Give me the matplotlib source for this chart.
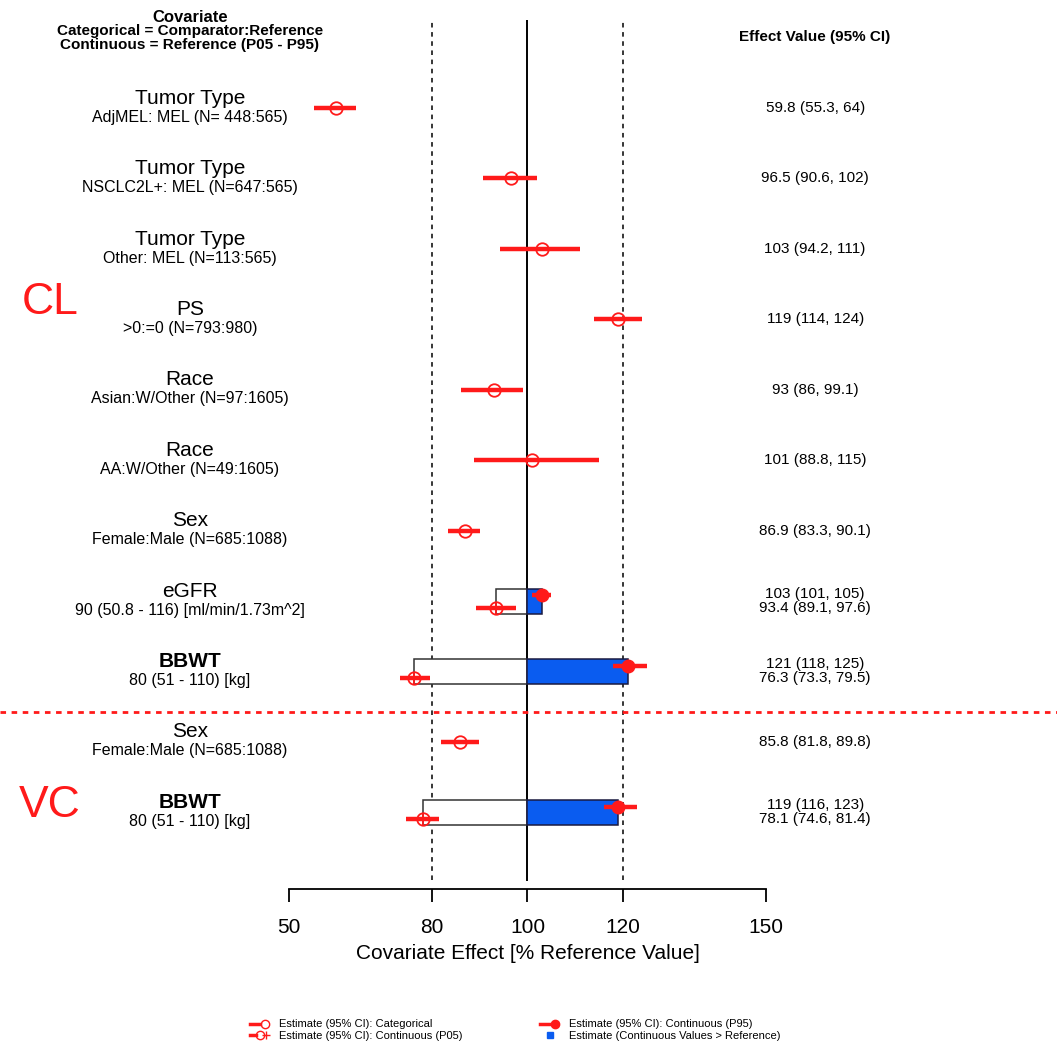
import matplotlib.pyplot as plt
from matplotlib.patches import Rectangle
from matplotlib.lines import Line2D
from matplotlib.legend_handler import HandlerTuple

plt.rcParams['font.family'] = ['Liberation Sans', 'DejaVu Sans']

# categorical rows (row index, name, sub label, est, lo, hi)
cat_rows = [0, 1, 2, 3, 4, 5, 6, 9]
cat_names = ['Tumor Type', 'Tumor Type', 'Tumor Type', 'PS', 'Race', 'Race', 'Sex', 'Sex']
cat_subs = ['AdjMEL: MEL (N= 448:565)', 'NSCLC2L+: MEL (N=647:565)', 'Other: MEL (N=113:565)',
            '>0:=0 (N=793:980)', 'Asian:W/Other (N=97:1605)', 'AA:W/Other (N=49:1605)',
            'Female:Male (N=685:1088)', 'Female:Male (N=685:1088)']
cat_est = [59.8, 96.5, 103, 119, 93, 101, 86.9, 85.8]
cat_lo = [55.3, 90.6, 94.2, 114, 86, 88.8, 83.3, 81.8]
cat_hi = [64, 102, 111, 124, 99.1, 115, 90.1, 89.8]

# continuous rows
con_rows = [7, 8, 10]
con_names = ['eGFR', 'BBWT', 'BBWT']
con_subs = ['90 (50.8 - 116) [ml/min/1.73m^2]', '80 (51 - 110) [kg]', '80 (51 - 110) [kg]']
p95_est = [103, 121, 119]
p95_lo = [101, 118, 116]
p95_hi = [105, 125, 123]
p05_est = [93.4, 76.3, 78.1]
p05_lo = [89.1, 73.3, 74.6]
p05_hi = [97.6, 79.5, 81.4]

xticks = [50, 80, 100, 120, 150]

RED = '#ff1a1a'
BLUE = '#0a5cf0'

fig = plt.figure(figsize=(10.57, 10.48), dpi=100)
ax = fig.add_axes([0.2734, 0.1517, 0.4513, 0.8292])
ax.set_xlim(50, 150)
ax.set_ylim(11.09, -1.25)
for s in ['top', 'right', 'left']:
    ax.spines[s].set_visible(False)
ax.spines['bottom'].set_bounds(50, 150)
ax.spines['bottom'].set_linewidth(1.3)
ax.set_yticks([])
ax.set_xticks(xticks)
ax.set_xticklabels([str(t) for t in xticks])
ax.tick_params(axis='x', length=9, width=1.3, labelsize=15, pad=12)
ax.set_xlabel('Covariate Effect [% Reference Value]', fontsize=15, labelpad=5)

ax.axvline(100, ymin=0.01, ymax=1, color='black', lw=1.4)
for v in [80, 120]:
    ax.axvline(v, ymin=0.01, ymax=1, color='black', lw=1.1, ls=(0, (3, 3)))

ms = 9
lw_ci = 3.2
fs_sub = 11.5
fs_val = 11

def label(y, name, sub, bold=False):
    ax.text(29.2, y - 0.14, name, ha='center', va='center', fontsize=15,
            fontweight='bold' if bold else 'normal', clip_on=False)
    ax.text(29.2, y + 0.13, sub, ha='center', va='center', fontsize=fs_sub, clip_on=False)

for r, n, s, e, lo, hi in zip(cat_rows, cat_names, cat_subs, cat_est, cat_lo, cat_hi):
    ax.plot([lo, hi], [r, r], color=RED, lw=lw_ci, solid_capstyle='butt', zorder=4)
    ax.plot(e, r, 'o', mfc='none', mec=RED, mew=1.3, ms=ms, zorder=5)
    label(r, n, s)
    ax.text(160.3, r, '%g (%g, %g)' % (e, lo, hi), ha='center', va='center', fontsize=fs_val, clip_on=False)

for i, r in enumerate(con_rows):
    y95 = r - 0.08
    y05 = r + 0.1
    top = r - 0.17
    h = 0.35
    ax.add_patch(Rectangle((p05_est[i], top), 100 - p05_est[i], h, facecolor='white',
                           edgecolor='#333333', lw=1.1, zorder=2))
    ax.add_patch(Rectangle((100, top), p95_est[i] - 100, h, facecolor=BLUE,
                           edgecolor='#1a1a40', lw=1.1, zorder=3))
    ax.plot([p95_lo[i], p95_hi[i]], [y95, y95], color=RED, lw=lw_ci, solid_capstyle='butt', zorder=4)
    ax.plot(p95_est[i], y95, 'o', color=RED, ms=ms, zorder=5)
    ax.plot([p05_lo[i], p05_hi[i]], [y05, y05], color=RED, lw=lw_ci, solid_capstyle='butt', zorder=4)
    ax.plot(p05_est[i], y05, 'o', mfc='none', mec=RED, mew=1.3, ms=ms, zorder=5)
    ax.plot(p05_est[i], y05, '+', color=RED, mew=1.3, ms=ms, zorder=5)
    label(r, con_names[i], con_subs[i], bold=(con_names[i] == 'BBWT'))
    ax.text(160.3, r - 0.1, '%g (%g, %g)' % (p95_est[i], p95_lo[i], p95_hi[i]),
            ha='center', va='center', fontsize=fs_val, clip_on=False)
    ax.text(160.3, r + 0.1, '%g (%g, %g)' % (p05_est[i], p05_lo[i], p05_hi[i]),
            ha='center', va='center', fontsize=fs_val, clip_on=False)

# separator between CL and VC
ax.plot([-10.6, 211], [8.57, 8.57], color=RED, lw=2, ls=(0, (2, 2)), clip_on=False)

ax.text(-0.1, 2.76, 'CL', color=RED, fontsize=32, ha='center', va='center', clip_on=False)
ax.text(-0.1, 9.9, 'VC', color=RED, fontsize=32, ha='center', va='center', clip_on=False)

# headers
fig.text(190 / 1057, 1 - 17 / 1048, 'Covariate', ha='center', va='center', fontsize=12, fontweight='bold')
fig.text(190 / 1057, 1 - 31 / 1048, 'Categorical = Comparator:Reference', ha='center', va='center',
         fontsize=11, fontweight='bold')
fig.text(190 / 1057, 1 - 45 / 1048, 'Continuous = Reference (P05 - P95)', ha='center', va='center',
         fontsize=11, fontweight='bold')
fig.text(815 / 1057, 1 - 37 / 1048, 'Effect Value (95% CI)', ha='center', va='center',
         fontsize=11, fontweight='bold')

# legend
h_cat = (Line2D([], [], color=RED, lw=2.5), Line2D([], [], ls='none', marker='o', mfc='none', mec=RED, ms=6))
h_p05 = (Line2D([], [], color=RED, lw=2.5), Line2D([], [], ls='none', marker='o', mfc='none', mec=RED, ms=6),
         Line2D([], [], ls='none', marker='+', color=RED, ms=6))
h_p95 = (Line2D([], [], color=RED, lw=2.5), Line2D([], [], ls='none', marker='o', color=RED, ms=6))
h_bar = Line2D([], [], ls='none', marker='s', color=BLUE, ms=5)
fig.legend([h_cat, h_p05, h_p95, h_bar],
           ['Estimate (95% CI): Categorical', 'Estimate (95% CI): Continuous (P05)',
            'Estimate (95% CI): Continuous (P95)', 'Estimate (Continuous Values > Reference)'],
           handler_map={tuple: HandlerTuple(ndivide=None, pad=0)},
           loc='center', bbox_to_anchor=(515 / 1057, 1 - 1030 / 1048), ncol=2, frameon=False,
           fontsize=8, handlelength=1.8, handletextpad=0.8, columnspacing=7, labelspacing=0.1)

fig.savefig('out.png', dpi=100)
